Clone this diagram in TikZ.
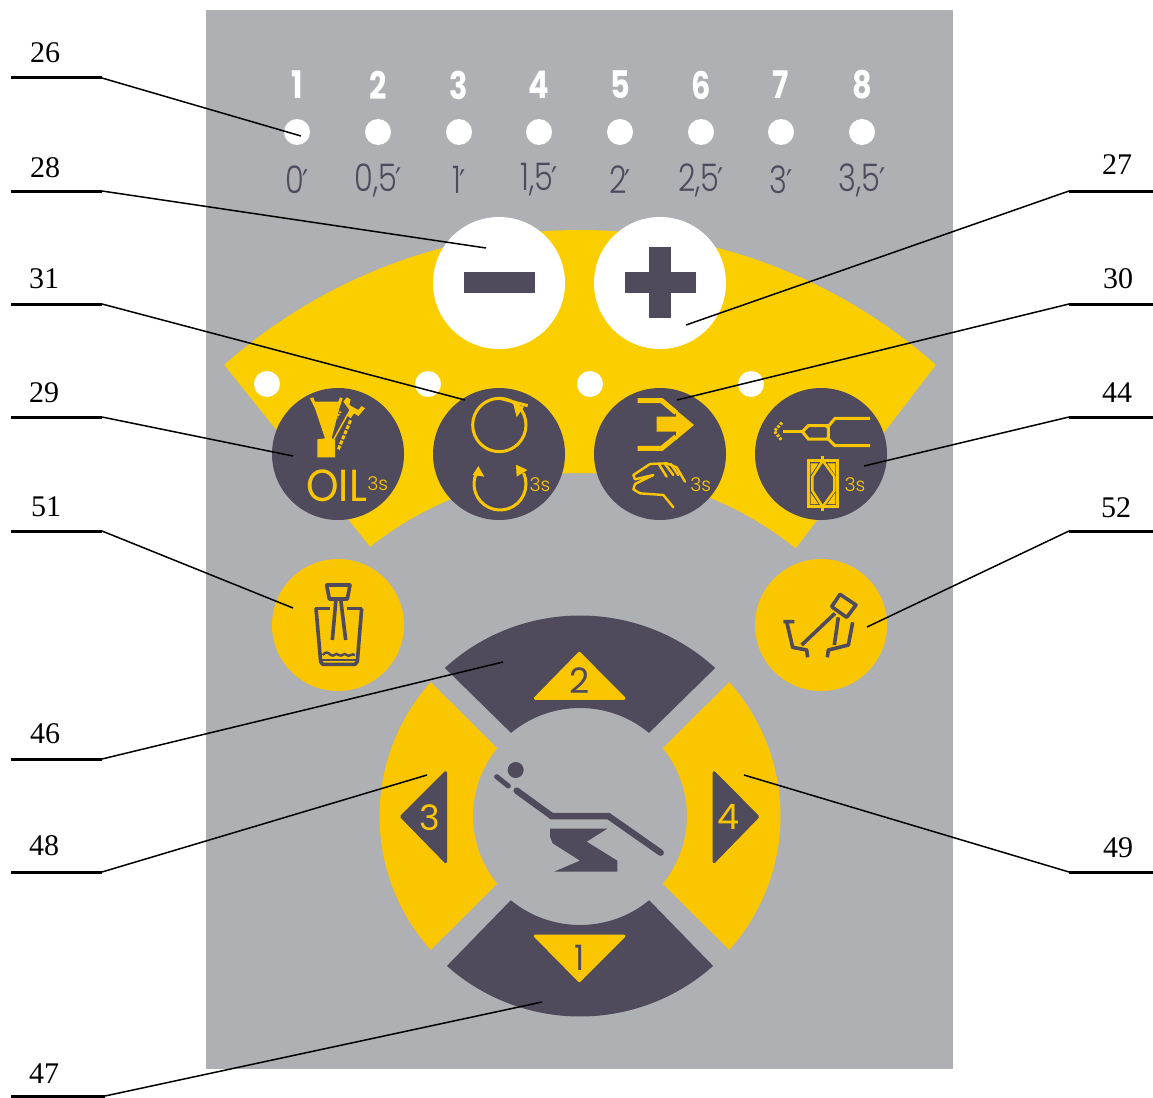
\documentclass[tikz,border=0pt]{standalone}
\usepackage{fontspec}
\setmainfont{Liberation Serif}
\newfontfamily\panelfont{Poppins}[UprightFont=* Light,BoldFont=*-Bold]
\newfontfamily\panelreg{Poppins}
\newfontfamily\primefont{DejaVu Sans}
\definecolor{panelgray}{HTML}{AFB0B4}
\definecolor{dk}{HTML}{4F4A5C}
\definecolor{fanyel}{HTML}{FBCE00}
\definecolor{btnyel}{HTML}{F9C600}
\tikzset{
  tick/.style={font=\fontsize{30}{30}\selectfont,inner sep=0pt,text=black},
  bignum/.style={font=\panelfont\bfseries\fontsize{38}{38}\selectfont,inner sep=0pt,text=white},
  timenum/.style={font=\panelfont\fontsize{38}{38}\selectfont,inner sep=0pt,text=dk},
  arrownum/.style={font=\panelreg\fontsize{35}{35}\selectfont,inner sep=0pt},
  secs/.style={font=\panelfont\fontsize{19}{19}\selectfont,inner sep=0pt,text=btnyel},
  ico/.style={draw=btnyel,line width=3pt,line join=miter},
  icothin/.style={draw=btnyel,line width=2.4pt,line join=round,line cap=round},
  icodk/.style={draw=dk,line width=3.6pt,line join=round},
  zoomA/.style={shift={(230,360)},scale=1/3},
  zoomB/.style={shift={(570,360)},scale=1/3},
  zoomC/.style={shift={(370,610)},scale=1/3},
  leaderline/.style={draw=black,line width=1.5pt},
}
\newcommand{\callout}[8]{%
  \coordinate (#1a) at (#4,#6);
  \coordinate (#1b) at (#5,#6);
  \coordinate (#1e) at (#7,#8);
  \node[tick] (lab#1) at (#2,#3) {#1};
  \draw[leaderline] (#1b) -- (#1e);
  \draw[draw=black,line width=3pt] (#1a) -- (#1b);
}
% colour, outer start, outer end, outer radius, inner end, inner start, inner radius (centre 580,816)
\newcommand{\ringsect}[7]{%
  \fill[#1] ([shift={(#2:#4pt)}]580,816) arc[start angle=#2,end angle=#3,radius=#4pt]
    -- ([shift={(#5:#7pt)}]580,816) arc[start angle=#5,end angle=#6,radius=#7pt] -- cycle;
}
\newcommand{\primemark}{{\primefont\fontsize{34}{34}\selectfont\raisebox{-1pt}{′}}}
\begin{document}
\begin{tikzpicture}[x=1pt,y=-1pt]
\useasboundingbox (0,0) rectangle (1153,1097);
\fill[white] (0,0) rectangle (1153,1097);
\fill[panelgray] (206,10) rectangle (953,1069);

% top row
\foreach \n/\x/\t in {1/297/0,2/378/{0,5},3/459/1,4/539/{1,5},5/620/2,6/701/{2,5},7/781/3,8/862/{3,5}}{
  \node[bignum] (num\n) at (\x,85) {\scalebox{.8}[1]{\n}};
  \fill[white] (\x,132) circle[radius=13pt];
  \node[timenum] (time\n) at (\x,180) {\scalebox{.8}[1]{\t\hspace{-2pt}\primemark}};
}

% fan
\fill[fanyel] ([shift={(131.5:537pt)}]580,767) arc[start angle=131.5,end angle=48.5,radius=537pt]
  -- ([shift={(51.2:341pt)}]582,814) arc[start angle=51.2,end angle=128.4,radius=341pt] -- cycle;

% plus / minus
\fill[white] (499,283) circle[radius=66pt];
\fill[white] (660,283) circle[radius=66pt];
\fill[dk] (464,272) rectangle (535,293);
\fill[dk] (625,272) rectangle (696,293);
\fill[dk] (649,247) rectangle (671,318);

% white dots in fan
\foreach \x in {267,428,590,751}{\fill[white] (\x,384) circle[radius=13pt];}

% round buttons
\foreach \x in {338,499,660,821}{\fill[dk] (\x,454) circle[radius=66pt];}
\foreach \x in {338,821}{\fill[btnyel] (\x,625) circle[radius=66pt];}

% OIL icon
\begin{scope}[zoomA]
  \fill[btnyel] (240,115)--(250,112)--(255,125)--(325,125)--(330,112)--(338,115)--(328,145)
    --(305,235)--(315,240)--(315,292)--(262,292)--(262,238)--(285,235)--(255,145)--cycle;
  \fill[btnyel] (340,125)--(350,112)--(362,118)--(358,135)--(385,150)--(395,138)--(405,145)--(385,168)--(372,160)--(362,175)--(350,165)--(358,150)--cycle;
  \draw[draw=btnyel,line width=1.5pt] (310,240)--(352,165);
  \draw[draw=btnyel,line width=3pt,dash pattern=on 4pt off 1.5pt] (325,268)--(362,180);
  \draw[draw=btnyel,line width=2pt,dash pattern=on 2pt off 1.5pt] (312,185)--(332,155);
  \node[font=\panelreg\fontsize{45}{45}\selectfont,text=btnyel,inner sep=0pt] (oiltext) at (320,378) {\scalebox{.92}[1]{OIL}};
  \node[secs] (s1) at (443,372) {3s};
\end{scope}

% circular arrows icon
\begin{scope}[zoomA]
  \draw[ico] (808,195) circle[radius=80pt];
  \draw[ico] (810,115)--(893,137);
  \fill[btnyel] (850,132)--(882,140)--(860,172)--cycle;
  \draw[ico] ([shift={(155:78pt)}]810,372) arc[start angle=155,end angle=385,radius=78pt];
  \fill[btnyel] (745,318)--(763,350)--(728,345)--cycle;
  \fill[btnyel] (858,314)--(892,330)--(860,350)--cycle;
  \node[secs] (s2) at (930,375) {3s};
\end{scope}

% handpiece / hand icon
\begin{scope}[zoomB]
  \draw[draw=btnyel,line width=5pt,line join=miter] (203,122)--(275,122)--(318,158);
  \draw[draw=btnyel,line width=5pt,line join=miter] (203,265)--(275,265)--(318,230);
  \fill[btnyel] (260,170)--(318,170)--(318,150)--(372,195)--(318,240)--(318,215)--(260,215)--cycle;
  \draw[icothin] (345,365)--(320,322)--(290,310)--(240,312)--(190,345)--(195,358)--(250,345)
    --(195,372)--(190,388)--(210,400)--(280,405)--(310,442);
  \draw[icothin] (268,315)--(290,350) (285,312)--(310,345) (302,312)--(325,345);
  \node[secs] (s3) at (392,375) {3s};
\end{scope}

% syringe / box icon
\begin{scope}[zoomB]
  \draw[ico] (900,175)--(795,175)--(770,205) (900,257)--(795,257)--(770,232);
  \draw[ico] (697,215)--(715,197)--(775,197)--(775,237)--(715,237)--cycle;
  \draw[ico] (640,213)--(697,213);
  \draw[draw=btnyel,line width=3pt,dash pattern=on 2.5pt off 1.5pt] (636,188)--(613,213)--(636,242);
  \draw[ico] (715,302) rectangle (803,440);
  \draw[draw=btnyel,line width=2.4pt] (758,302)--(727,350)--(727,392)--(758,440)--(793,392)--(793,350)--cycle;
  \draw[ico] (758,288)--(758,302) (758,440)--(758,453);
  \fill[btnyel] (722,310)--(745,310)--(722,345)--cycle (796,310)--(772,310)--(796,345)--cycle
    (722,432)--(745,432)--(722,398)--cycle (796,432)--(772,432)--(796,398)--cycle;
  \node[secs] (s4) at (855,375) {3s};
\end{scope}

% bottle icon
\begin{scope}[zoomA]
  \draw[icodk] (290,675)--(360,675)--(352,717)--(298,717)--cycle;
  \draw[icodk] (256,745)--(300,745) (350,745)--(397,745);
  \draw[icodk] (258,745)--(272,905)--(278,913)--(375,913)--(382,905)--(395,745);
  \draw[icodk] (318,717)--(307,840) (332,717)--(347,840);
  \draw[draw=dk,line width=2.4pt] (278,885)
    .. controls (288,875) and (292,875) .. (302,885) .. controls (312,893) and (316,875) .. (326,885)
    .. controls (336,893) and (342,875) .. (350,885) .. controls (358,893) and (364,878) .. (375,885);
  \draw[draw=dk,line width=2.4pt] (275,900)--(380,900);
\end{scope}

% pedal icon
\begin{scope}[zoomB]
  \draw[icodk] (640,785)--(673,785) (650,785)--(668,862)--(710,870)--(713,892);
  \draw[icodk] (848,787)--(835,855)--(775,870)--(772,892);
  \draw[icodk] (695,855)--(795,760);
  \draw[icodk] (810,703)--(858,735)--(830,772)--(785,740)--cycle;
  \draw[icodk] (805,772)--(793,855);
\end{scope}

% direction ring
\ringsect{dk}{132.4}{47.6}{200.5}{50.3}{129.7}{108}
\ringsect{dk}{228.4}{311.6}{200.5}{309.4}{230.6}{109}
\ringsect{btnyel}{138.1}{221.9}{200.5}{219.3}{140.7}{107}
\ringsect{btnyel}{41.9}{-41.9}{200.5}{-39.3}{39.3}{107}

% direction triangles and chair
\begin{scope}[zoomC]
  \filldraw[fill=btnyel,draw=btnyel,line width=3pt,line join=round] (628,130)--(496,265)--(762,265)--cycle;
  \node[arrownum,text=dk] (dir2) at (628,212) {2};
  \filldraw[fill=btnyel,draw=btnyel,line width=3pt,line join=round] (496,978)--(762,978)--(628,1112)--cycle;
  \node[arrownum,text=dk] (dir1) at (628,1045) {\scalebox{.9}[1]{1}};
  \filldraw[fill=dk,draw=dk,line width=3pt,line join=round] (95,620)--(227,488)--(227,755)--cycle;
  \node[arrownum,text=btnyel] (dir3) at (180,622) {3};
  \filldraw[fill=dk,draw=dk,line width=3pt,line join=round] (1163,620)--(1032,488)--(1032,755)--cycle;
  \node[arrownum,text=btnyel] (dir4) at (1075,622) {4};
  \fill[dk] (437,480) circle[radius=24pt];
  \draw[draw=dk,line width=5pt,line cap=round] (380,500)--(415,528);
  \draw[draw=dk,line width=6.5pt,line cap=round,line join=miter] (440,542)--(545,618)--(715,618)--(872,728);
  \fill[dk] (540,656)--(712,656)--(650,695)--(742,752)--(742,785)--(552,785)--(630,752)--(548,700)--(540,680)--cycle;
\end{scope}

% callouts
\callout{26}{45}{53}{11}{102}{78}{301}{136}
\callout{28}{45}{168}{11}{102}{191}{486}{248}
\callout{31}{44}{279}{11}{102}{304}{465}{400}
\callout{29}{44}{393}{11}{102}{417}{293}{456}
\callout{51}{46}{507}{11}{102}{531}{293}{608}
\callout{46}{45}{734}{11}{102}{759}{503}{662}
\callout{48}{44}{846}{11}{102}{872}{427}{775}
\callout{47}{44}{1074}{11}{105}{1096}{542}{1002}
\callout{27}{1117}{165}{1153}{1069}{191}{686}{325}
\callout{30}{1118}{279}{1153}{1069}{304}{677}{400}
\callout{44}{1117}{393}{1153}{1069}{417}{864}{466}
\callout{52}{1116}{508}{1153}{1069}{531}{867}{627}
\callout{49}{1118}{848}{1153}{1069}{872}{744}{775}
\end{tikzpicture}
\end{document}
